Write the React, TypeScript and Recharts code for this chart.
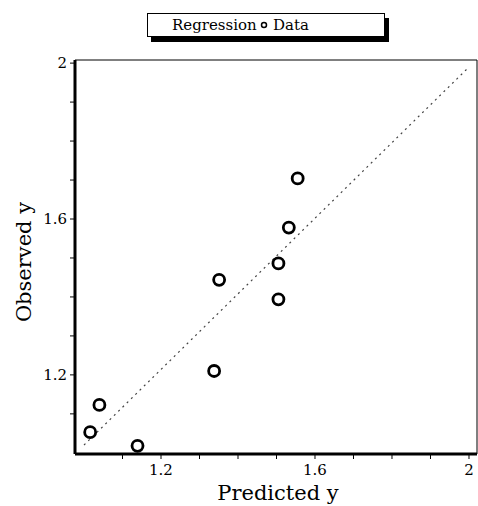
import { ScatterChart, Scatter, XAxis, YAxis, ReferenceLine } from "recharts";

const predicted = [1.555, 1.532, 1.505, 1.351, 1.505, 1.338, 1.04, 1.016, 1.139];
const observed = [1.704, 1.578, 1.486, 1.444, 1.394, 1.21, 1.123, 1.053, 1.018];
const regressionX = [1.0, 2.0];
const regressionY = [1.02, 1.99];
const tickValues = [1.1, 1.2, 1.3, 1.4, 1.5, 1.6, 1.7, 1.8, 1.9, 2.0];
const tickLabels = ["1.2", "1.6", "2"];

const points = predicted.map((x, i) => ({ x, y: observed[i] }));
const regression = regressionX.map((x, i) => ({ x, y: regressionY[i] }));

const font = "'DejaVu Serif', serif";

const labelFor = (v: number) => {
  const s = String(Math.round(v * 10) / 10);
  return tickLabels.includes(s) ? s : "";
};

const XTick = (props: any) => {
  const { x, y, payload } = props;
  return (
    <text x={x} y={y + 14} textAnchor="middle" fontSize={15} fontFamily={font} fill="#000">
      {labelFor(payload.value)}
    </text>
  );
};

const YTick = (props: any) => {
  const { x, y, payload } = props;
  return (
    <text x={x - 1} y={y + 5} textAnchor="end" fontSize={15} fontFamily={font} fill="#000">
      {labelFor(payload.value)}
    </text>
  );
};

const XLabel = (props: any) => {
  const { viewBox } = props;
  return (
    <text x={viewBox.x + viewBox.width / 2 + 2} y={500} textAnchor="middle" fontSize={21} fontFamily={font} fill="#000">
      Predicted y
    </text>
  );
};

const YLabel = () => (
  <text
    x={24}
    y={262}
    transform="rotate(-90, 24, 262)"
    textAnchor="middle"
    dominantBaseline="central"
    fontSize={21}
    fontFamily={font}
    fill="#000"
  >
    Observed y
  </text>
);

const Ring = (props: any) => {
  const { cx, cy } = props;
  return <circle cx={cx} cy={cy} r={5.5} fill="#fff" stroke="#000" strokeWidth={2.8} />;
};

export default function App() {
  return (
    <div style={{ position: "absolute", left: 0, top: 0, width: 478, height: 506, background: "#fff" }}>
      <div
        style={{
          position: "absolute",
          left: 147,
          top: 13,
          width: 236,
          height: 22,
          border: "1px solid #000",
          boxShadow: "4px 5px 0 #000",
          background: "#fff",
          fontFamily: font,
          fontSize: 15,
          lineHeight: "22px",
          zIndex: 2,
        }}
      >
        <span style={{ position: "absolute", left: 24, top: 0 }}>Regression</span>
        <svg style={{ position: "absolute", left: 112, top: 7 }} width={8} height={8}>
          <circle cx={4} cy={4} r={2.5} fill="none" stroke="#000" strokeWidth={1.5} />
        </svg>
        <span style={{ position: "absolute", left: 125, top: 0 }}>Data</span>
      </div>
      <ScatterChart width={478} height={506} margin={{ top: 60, right: 1, bottom: 0, left: 0 }}>
        <XAxis
          type="number"
          dataKey="x"
          domain={[0.9766, 2.0208]}
          allowDataOverflow
          ticks={tickValues}
          tick={<XTick />}
          tickSize={5}
          tickLine={{ stroke: "#000" }}
          axisLine={{ stroke: "#000", strokeWidth: 3 }}
          height={52}
          label={<XLabel />}
        />
        <YAxis
          type="number"
          dataKey="y"
          domain={[0.997, 2.008]}
          allowDataOverflow
          ticks={tickValues}
          tick={<YTick />}
          tickSize={5}
          tickLine={{ stroke: "#000" }}
          axisLine={{ stroke: "#000", strokeWidth: 3 }}
          width={75}
          label={<YLabel />}
        />
        <ReferenceLine y={2.008} stroke="#000" strokeWidth={1} />
        <ReferenceLine x={2.0208} stroke="#000" strokeWidth={1} />
        <Scatter
          data={regression}
          line={{ stroke: "#444", strokeWidth: 1.2, strokeDasharray: "2 4" }}
          shape={() => <g />}
          isAnimationActive={false}
        />
        <Scatter data={points} shape={<Ring />} isAnimationActive={false} />
      </ScatterChart>
    </div>
  );
}
